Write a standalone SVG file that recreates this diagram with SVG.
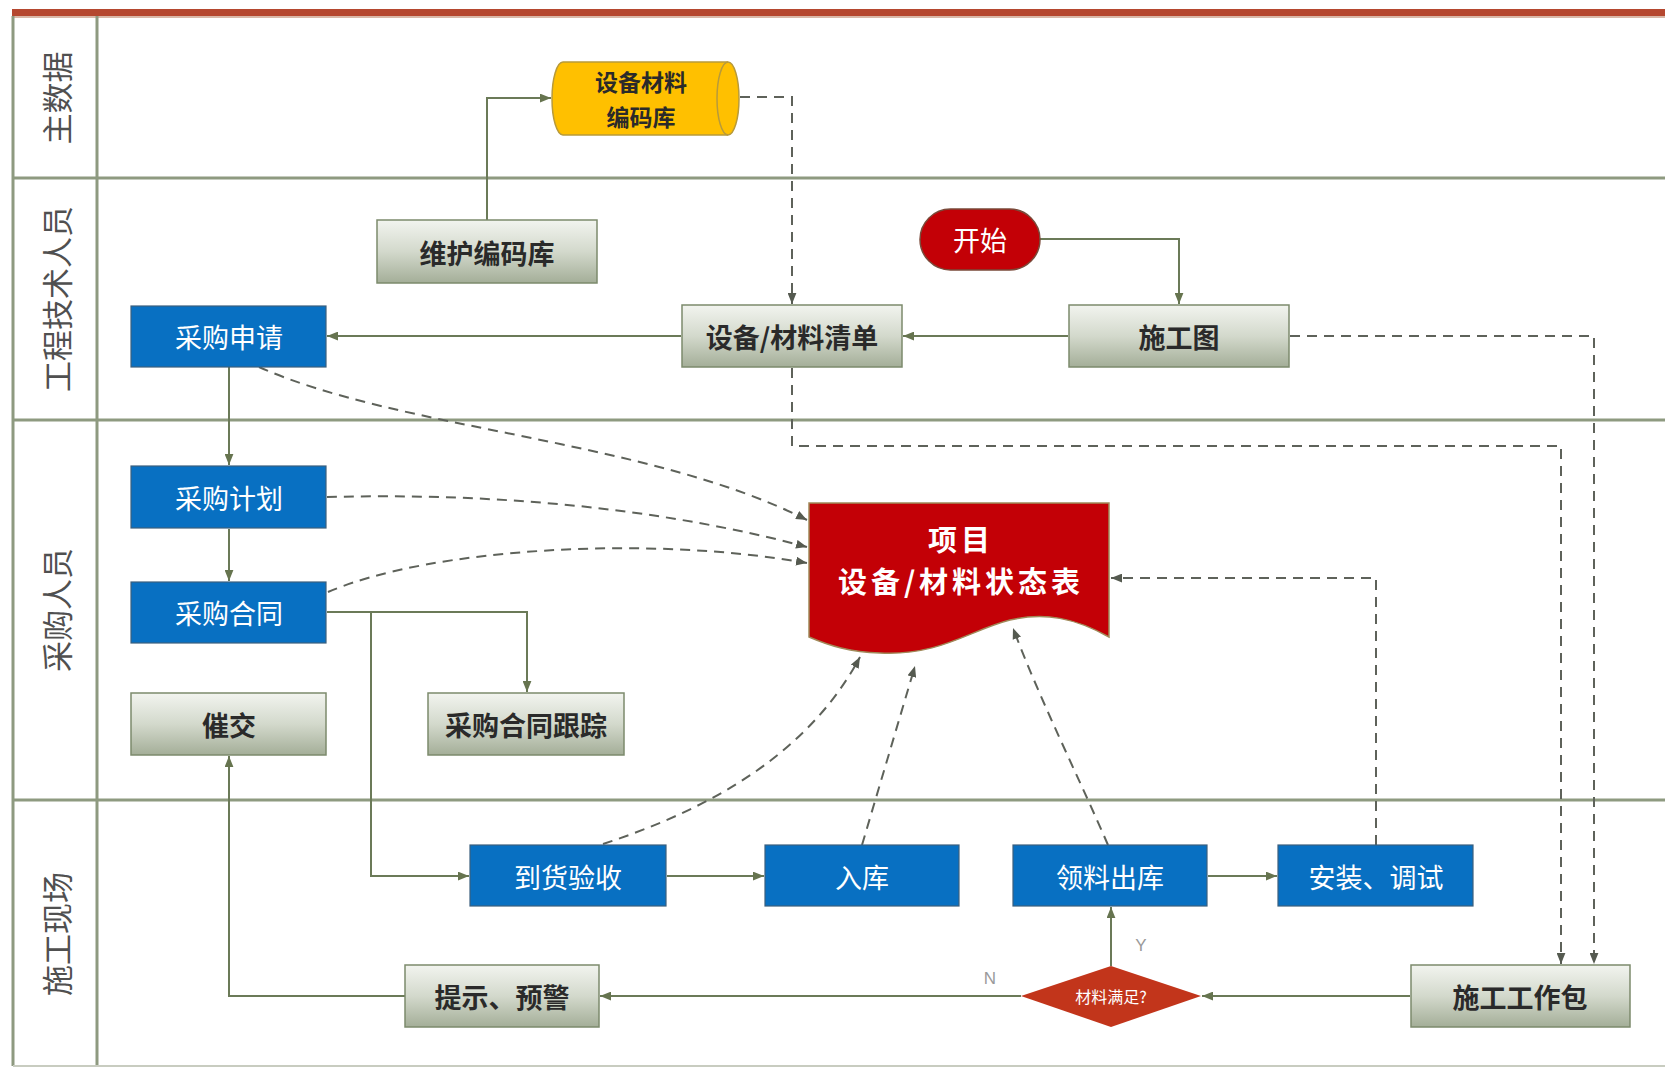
<svg xmlns="http://www.w3.org/2000/svg" width="1665" height="1069" viewBox="0 0 1665 1069">
<defs>
<linearGradient id="gGray" x1="0" y1="0" x2="0" y2="1">
<stop offset="0" stop-color="#f2f4ef"/>
<stop offset="0.5" stop-color="#d3d9cc"/>
<stop offset="1" stop-color="#a4ae98"/>
</linearGradient>
<marker id="aS" viewBox="0 0 10 8" refX="10" refY="4" markerWidth="11" markerHeight="9" markerUnits="userSpaceOnUse" orient="auto">
<path d="M0,0 L10,4 L0,8 z" fill="#66744f"/>
</marker>
<marker id="aD" viewBox="0 0 10 8" refX="10" refY="4" markerWidth="11" markerHeight="9" markerUnits="userSpaceOnUse" orient="auto">
<path d="M0,0 L10,4 L0,8 z" fill="#555a50"/>
</marker>
</defs>
<style>
.lane{stroke:#8e9a80;stroke-width:3;fill:none}
.lbl{font-family:"Noto Sans CJK SC","Noto Sans",sans-serif;font-size:31px;fill:#505050}
.gray{fill:url(#gGray);stroke:#7c8a6c;stroke-width:1.5}
.blue{fill:#0870c2;stroke:#3b5f7e;stroke-width:1.2}
.tg{font-family:"Noto Sans CJK SC","Noto Sans",sans-serif;font-size:27px;font-weight:bold;fill:#2a2a2a;text-anchor:middle;dominant-baseline:central}
.tb{font-family:"Noto Sans CJK SC","Noto Sans",sans-serif;font-size:27px;fill:#ffffff;text-anchor:middle;dominant-baseline:central}
.sol{stroke:#6b7a58;stroke-width:2;fill:none}
.das{stroke:#5e625a;stroke-width:2;fill:none;stroke-dasharray:10,7}
.yn{font-family:"Liberation Sans",sans-serif;font-size:17px;fill:#9a9a9a}
</style>

<rect x="0" y="0" width="1665" height="1069" fill="#ffffff"/>

<g id="lanes">
<rect x="12" y="9" width="1653" height="7" fill="#b5472f"/>
<line x1="12" y1="17" x2="1665" y2="17" stroke="#d9b8a8" stroke-width="2"/>
<line class="lane" x1="13" y1="16" x2="13" y2="1066"/>
<line class="lane" x1="97" y1="16" x2="97" y2="1066"/>
<line class="lane" x1="13" y1="178" x2="1665" y2="178"/>
<line class="lane" x1="13" y1="420" x2="1665" y2="420"/>
<line class="lane" x1="13" y1="800" x2="1665" y2="800"/>
<line x1="13" y1="1066" x2="1665" y2="1066" stroke="#c8ccc0" stroke-width="2"/>
<text class="lbl" transform="translate(55,98) rotate(-90)" text-anchor="middle" dominant-baseline="central">主数据</text>
<text class="lbl" transform="translate(55,299) rotate(-90)" text-anchor="middle" dominant-baseline="central">工程技术人员</text>
<text class="lbl" transform="translate(55,610) rotate(-90)" text-anchor="middle" dominant-baseline="central">采购人员</text>
<text class="lbl" transform="translate(55,934) rotate(-90)" text-anchor="middle" dominant-baseline="central">施工现场</text>
</g>

<g id="connectors">
<path class="sol" d="M487,220 V98 H551" marker-end="url(#aS)"/>
<path class="sol" d="M1040,239 H1179 V304" marker-end="url(#aS)"/>
<path class="sol" d="M1068,336 H903" marker-end="url(#aS)"/>
<path class="sol" d="M681,336 H327" marker-end="url(#aS)"/>
<path class="sol" d="M229,367 V465" marker-end="url(#aS)"/>
<path class="sol" d="M229,529 V581" marker-end="url(#aS)"/>
<path class="sol" d="M327,612 H527 V692" marker-end="url(#aS)"/>
<path class="sol" d="M371,612 V876 H469" marker-end="url(#aS)"/>
<path class="sol" d="M667,876 H764" marker-end="url(#aS)"/>
<path class="sol" d="M1208,876 H1277" marker-end="url(#aS)"/>
<path class="sol" d="M1410,996 H1202" marker-end="url(#aS)"/>
<path class="sol" d="M1111,966 V907" marker-end="url(#aS)"/>
<path class="sol" d="M1021,996 H600" marker-end="url(#aS)"/>
<path class="sol" d="M405,996 H229 V756" marker-end="url(#aS)"/>
<path class="das" d="M740,97 H792 V304" marker-end="url(#aD)"/>
<path class="das" d="M1290,336 H1594 V964" marker-end="url(#aD)"/>
<path class="das" d="M792,368 V446 H1561 V964" marker-end="url(#aD)"/>
<path class="das" d="M259,367 C400,430 650,440 807,520" marker-end="url(#aD)"/>
<path class="das" d="M327,497 C480,493 650,505 807,547" marker-end="url(#aD)"/>
<path class="das" d="M328,592 C430,548 650,535 807,563" marker-end="url(#aD)"/>
<path class="das" d="M603,844 C700,812 805,760 860,657" marker-end="url(#aD)"/>
<path class="das" d="M862,845 L915,666" marker-end="url(#aD)"/>
<path class="das" d="M1108,845 C1080,780 1040,700 1013,628" marker-end="url(#aD)"/>
<path class="das" d="M1376,845 V578 H1111" marker-end="url(#aD)"/>
<text class="yn" x="990" y="984" text-anchor="middle">N</text>
<text class="yn" x="1141" y="951" text-anchor="middle">Y</text>
</g>

<g id="n-codelib">
<path d="M563,62 H728 A11,36.5 0 0 1 728,135 H563 A11,36.5 0 0 1 563,62 z" fill="#ffc000" stroke="#b89a3a" stroke-width="1.5"/>
<path d="M728,62 A11,36.5 0 0 0 728,135" fill="none" stroke="#b89a3a" stroke-width="1.5"/>
<text class="tg" x="641" y="81" style="font-size:23px">设备材料</text>
<text class="tg" x="641" y="116" style="font-size:23px">编码库</text>
</g>

<g id="n-maintain">
<rect class="gray" x="377" y="220" width="220" height="63"/>
<text class="tg" x="487" y="252">维护编码库</text>
</g>

<g id="n-start">
<rect x="920" y="209" width="120" height="61" rx="30.5" fill="#c30006" stroke="#7a4a3a" stroke-width="1.5"/>
<text class="tb" x="980" y="239">开始</text>
</g>

<g id="n-apply">
<rect class="blue" x="131" y="306" width="195" height="61"/>
<text class="tb" x="229" y="336">采购申请</text>
</g>

<g id="n-list">
<rect class="gray" x="682" y="305" width="220" height="62"/>
<text class="tg" x="792" y="336">设备/材料清单</text>
</g>

<g id="n-drawing">
<rect class="gray" x="1069" y="305" width="220" height="62"/>
<text class="tg" x="1179" y="336">施工图</text>
</g>

<g id="n-plan">
<rect class="blue" x="131" y="466" width="195" height="62"/>
<text class="tb" x="229" y="497">采购计划</text>
</g>

<g id="n-contract">
<rect class="blue" x="131" y="582" width="195" height="61"/>
<text class="tb" x="229" y="612">采购合同</text>
</g>

<g id="n-expedite">
<rect class="gray" x="131" y="693" width="195" height="62"/>
<text class="tg" x="229" y="724">催交</text>
</g>

<g id="n-track">
<rect class="gray" x="428" y="693" width="196" height="62"/>
<text class="tg" x="526" y="724">采购合同跟踪</text>
</g>

<g id="n-status">
<path d="M809,503 H1109 V637 C1075,618 1045,612 1010,620 C970,630 940,656 880,653 C850,652 830,646 809,637 z" fill="#c30006" stroke="#a08a5a" stroke-width="1.5"/>
<text class="tb" x="961" y="538" style="font-size:29px;font-weight:bold;letter-spacing:4px">项目</text>
<text class="tb" x="961" y="580" style="font-size:29px;font-weight:bold;letter-spacing:4px">设备/材料状态表</text>
</g>

<g id="n-receive">
<rect class="blue" x="470" y="845" width="196" height="61"/>
<text class="tb" x="568" y="876">到货验收</text>
</g>

<g id="n-stock">
<rect class="blue" x="765" y="845" width="194" height="61"/>
<text class="tb" x="862" y="876">入库</text>
</g>

<g id="n-issue">
<rect class="blue" x="1013" y="845" width="194" height="61"/>
<text class="tb" x="1110" y="876">领料出库</text>
</g>

<g id="n-install">
<rect class="blue" x="1278" y="845" width="195" height="61"/>
<text class="tb" x="1376" y="876">安装、调试</text>
</g>

<g id="n-warn">
<rect class="gray" x="405" y="965" width="194" height="62"/>
<text class="tg" x="502" y="996">提示、预警</text>
</g>

<g id="n-decide">
<polygon points="1111,966 1201,996 1111,1027 1021,996" fill="#c2351b"/>
<text class="tb" x="1111" y="996" style="font-size:16px">材料满足?</text>
</g>

<g id="n-package">
<rect class="gray" x="1411" y="965" width="219" height="62"/>
<text class="tg" x="1520" y="996">施工工作包</text>
</g>
</svg>
